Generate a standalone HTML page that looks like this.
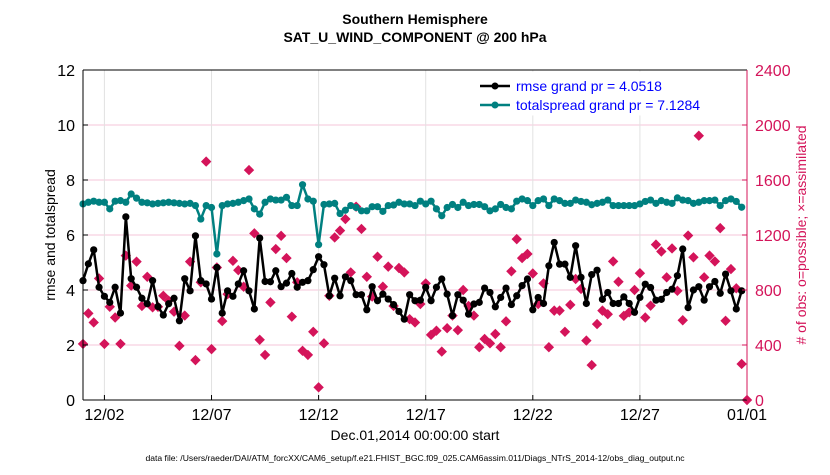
<!DOCTYPE html>
<html><head><meta charset="utf-8"><style>
body{margin:0;background:#fff;}
svg text{font-family:"Liberation Sans",Arial,sans-serif;}
</style></head><body>
<svg id="chart" width="830" height="470" viewBox="0 0 830 470">
<g id="grid"></g>
<g id="series"></g>
<g id="axes"></g>
<text x="415" y="24" text-anchor="middle" font-size="14" font-weight="bold">Southern Hemisphere</text>
<text x="415" y="42" text-anchor="middle" font-size="14" font-weight="bold">SAT_U_WIND_COMPONENT @ 200 hPa</text>
<text transform="translate(55,235) rotate(-90)" text-anchor="middle" font-size="14">rmse and totalspread</text>
<text transform="translate(806,235) rotate(-90)" text-anchor="middle" font-size="14" fill="#d4145a"># of obs: o=possible; ×=assimilated</text>
<text x="415" y="440" text-anchor="middle" font-size="14">Dec.01,2014 00:00:00 start</text>
<text x="415" y="461" text-anchor="middle" font-size="8.6">data file: /Users/raeder/DAI/ATM_forcXX/CAM6_setup/f.e21.FHIST_BGC.f09_025.CAM6assim.011/Diags_NTrS_2014-12/obs_diag_output.nc</text>
<g>
<rect x="474" y="72" width="271" height="43" fill="#fff" stroke="#fff"/>
<line x1="480" y1="86" x2="510" y2="86" stroke="#000" stroke-width="2.5"/>
<circle cx="495" cy="86" r="3.5" fill="#000"/>
<text x="516" y="91" font-size="14" fill="#0000ff">rmse grand pr = 4.0518</text>
<line x1="480" y1="105" x2="510" y2="105" stroke="#008080" stroke-width="2.5"/>
<circle cx="495" cy="105" r="3.5" fill="#008080"/>
<text x="516" y="110" font-size="14" fill="#0000ff">totalspread grand pr = 7.1284</text>
</g>
</svg>
<script>
const rmse=[4.34,4.95,5.46,4.1,3.77,3.55,4.1,3.16,6.66,4.41,4.1,3.7,3.5,4.34,3.4,3.09,3.5,3.7,2.88,4.41,3.97,5.97,4.34,4.22,3.67,4.82,3.16,3.97,3.77,4.22,4.7,3.97,3.31,5.89,4.31,4.3,4.7,4.12,4.25,4.6,4.1,4.28,4.34,4.74,5.21,4.92,3.79,4.43,3.79,4.48,4.34,3.83,3.83,3.28,4.12,3.61,3.85,3.67,3.47,3.22,2.94,3.83,3.61,3.63,4.1,3.61,4.1,4.4,3.85,3.07,3.83,3.63,3.12,3.49,3.55,4.07,3.91,3.39,3.73,4.07,3.47,3.79,4.16,4.4,3.28,3.73,3.51,4.88,5.73,4.94,4.94,4.46,5.61,4.46,3.51,4.56,4.72,3.66,3.91,3.51,3.51,3.75,3.51,3.19,3.73,4.21,4.09,3.63,3.66,3.91,4.03,4.52,5.49,3.36,4.0,4.12,3.63,4.12,4.31,3.88,4.58,3.97,3.31,3.97];
const spread=[7.13,7.19,7.23,7.19,7.19,6.95,7.23,7.25,7.19,7.49,7.34,7.19,7.17,7.13,7.15,7.17,7.19,7.17,7.15,7.13,7.15,7.07,6.58,7.07,7.0,5.31,7.07,7.13,7.15,7.19,7.25,7.31,6.95,6.76,7.19,7.31,7.27,7.27,7.37,7.07,7.07,7.83,7.31,7.23,5.65,7.11,7.13,7.15,6.78,6.9,7.07,7.0,6.88,6.88,7.03,7.03,6.86,7.07,7.09,7.19,7.13,7.13,7.07,7.23,7.13,7.23,6.95,6.7,7.0,7.11,7.0,7.19,7.07,7.11,7.11,7.03,6.88,6.95,7.11,7.0,6.95,7.23,7.31,7.25,7.07,7.25,7.31,7.07,7.31,7.25,7.15,7.15,7.27,7.22,7.19,7.1,7.15,7.19,7.27,7.07,7.07,7.07,7.07,7.07,7.13,7.22,7.27,7.15,7.25,7.19,7.15,7.35,7.27,7.25,7.15,7.19,7.25,7.25,7.27,7.07,7.25,7.31,7.22,7.01];
const obs=[408,630,564,884,408,678,600,408,1050,832,1006,684,896,674,678,758,722,642,394,614,1006,290,856,1734,370,964,574,770,1012,944,824,1672,1212,438,328,710,1098,1194,1032,606,856,358,328,496,92,412,758,1182,1232,1316,928,1406,1244,896,752,1042,824,970,684,960,928,588,564,698,848,474,504,352,522,614,508,800,684,614,384,444,412,480,384,572,936,1170,1032,1062,920,698,848,384,650,650,496,692,880,808,432,254,552,650,624,1008,860,612,638,800,922,600,686,1130,1080,892,1102,794,580,1196,1038,1922,892,1050,1008,1250,576,952,812,262,0];
const yTicks=[0,2,4,6,8,10,12];
const rTicks=[0,400,800,1200,1600,2000,2400];
const xTickDays=[1,6,11,16,21,26,31];
const xTickLabels=["12/02","12/07","12/12","12/17","12/22","12/27","01/01"];
const NS='http://www.w3.org/2000/svg';
const L=83,R=747,T=70,B=400;
const xDay=d=>L+(R-L)*d/31;
const xIdx=i=>xDay(i/4);
const yL=v=>B-(B-T)*v/12;
const yR=v=>B-(B-T)*v/2400;
function mk(tag,attrs,parent){const e=document.createElementNS(NS,tag);for(const k in attrs)e.setAttribute(k,attrs[k]);parent.appendChild(e);return e;}
const grid=document.getElementById('grid'),ser=document.getElementById('series'),ax=document.getElementById('axes');
yTicks.forEach(v=>{if(v>0&&v<12){const g=mk('line',{x1:L,x2:R,y1:yL(v),y2:yL(v),stroke:'#f5c6d8','stroke-width':1},grid);

}
const t=mk('text',{x:L-8,y:yL(v)+6,'text-anchor':'end','font-size':16},ax);t.textContent=v;


mk('line',{x1:L,x2:L+5,y1:yL(v),y2:yL(v),stroke:'#000'},ax);});
rTicks.forEach(v=>{const t=mk('text',{x:R+8,y:yR(v)+6,'font-size':16,fill:'#d4145a'},ax);t.textContent=v;


mk('line',{x1:R-5,x2:R,y1:yR(v),y2:yR(v),stroke:'#d4145a'},ax);});
xTickDays.forEach((d,k)=>{const x=xDay(d);const g=mk('line',{x1:x,x2:x,y1:T,y2:B,stroke:'#e2e2e2'},grid);


mk('line',{x1:x,x2:x,y1:B-5,y2:B,stroke:'#000'},ax);
const t=mk('text',{x:x,y:B+20,'text-anchor':'middle','font-size':16},ax);t.textContent=xTickLabels[k];

});
obs.forEach((v,i)=>{const x=xIdx(i),y=yR(v),s=5.2;const p=mk('path',{d:`M${x} ${y-s}L${x+s} ${y}L${x} ${y+s}L${x-s} ${y}Z`,fill:'#d4145a'},ser);

});
function line(arr,col,name){const pl=mk('polyline',{points:arr.map((v,i)=>xIdx(i)+','+yL(v)).join(' '),fill:'none',stroke:col,'stroke-width':2.5,'stroke-linejoin':'round'},ser);


arr.forEach((v,i)=>{const c=mk('circle',{cx:xIdx(i),cy:yL(v),r:3.6,fill:col},ser);

});}
line(spread,'#008080','totalspread');
line(rmse,'#000000','rmse');
mk('line',{x1:L,x2:R,y1:T,y2:T,stroke:'#000'},ax);
mk('line',{x1:L,x2:R,y1:B,y2:B,stroke:'#000'},ax);
mk('line',{x1:L,x2:L,y1:T,y2:B,stroke:'#000'},ax);
mk('line',{x1:R,x2:R,y1:T,y2:B,stroke:'#d4145a'},ax);
</script>
</body></html>
